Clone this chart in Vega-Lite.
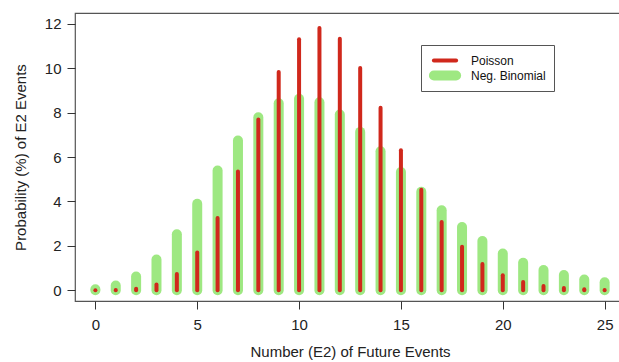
{
  "$schema": "https://vega.github.io/schema/vega-lite/v6.json",
  "width": 550,
  "height": 288,
  "autosize": "none",
  "padding": {"left": 75, "top": 13, "right": 0, "bottom": 61},
  "background": "white",
  "config": {
    "view": {"stroke": "#555", "strokeWidth": 1.2},
    "font": "Liberation Sans"
  },
  "data": {
    "values": [
      {"k": 0, "series": "Neg. Binomial", "p": 0.05},
      {"k": 1, "series": "Neg. Binomial", "p": 0.22},
      {"k": 2, "series": "Neg. Binomial", "p": 0.62},
      {"k": 3, "series": "Neg. Binomial", "p": 1.39},
      {"k": 4, "series": "Neg. Binomial", "p": 2.52},
      {"k": 5, "series": "Neg. Binomial", "p": 3.9},
      {"k": 6, "series": "Neg. Binomial", "p": 5.39},
      {"k": 7, "series": "Neg. Binomial", "p": 6.74},
      {"k": 8, "series": "Neg. Binomial", "p": 7.79},
      {"k": 9, "series": "Neg. Binomial", "p": 8.42},
      {"k": 10, "series": "Neg. Binomial", "p": 8.62},
      {"k": 11, "series": "Neg. Binomial", "p": 8.46},
      {"k": 12, "series": "Neg. Binomial", "p": 7.91},
      {"k": 13, "series": "Neg. Binomial", "p": 7.13},
      {"k": 14, "series": "Neg. Binomial", "p": 6.26},
      {"k": 15, "series": "Neg. Binomial", "p": 5.32},
      {"k": 16, "series": "Neg. Binomial", "p": 4.44},
      {"k": 17, "series": "Neg. Binomial", "p": 3.6},
      {"k": 18, "series": "Neg. Binomial", "p": 2.85},
      {"k": 19, "series": "Neg. Binomial", "p": 2.22},
      {"k": 20, "series": "Neg. Binomial", "p": 1.66},
      {"k": 21, "series": "Neg. Binomial", "p": 1.24},
      {"k": 22, "series": "Neg. Binomial", "p": 0.91},
      {"k": 23, "series": "Neg. Binomial", "p": 0.69},
      {"k": 24, "series": "Neg. Binomial", "p": 0.49},
      {"k": 25, "series": "Neg. Binomial", "p": 0.36},
      {"k": 0, "series": "Poisson", "p": 0.001},
      {"k": 1, "series": "Poisson", "p": 0.012},
      {"k": 2, "series": "Poisson", "p": 0.067},
      {"k": 3, "series": "Poisson", "p": 0.26},
      {"k": 4, "series": "Poisson", "p": 0.74},
      {"k": 5, "series": "Poisson", "p": 1.7},
      {"k": 6, "series": "Poisson", "p": 3.26},
      {"k": 7, "series": "Poisson", "p": 5.35},
      {"k": 8, "series": "Poisson", "p": 7.69},
      {"k": 9, "series": "Poisson", "p": 9.83},
      {"k": 10, "series": "Poisson", "p": 11.3},
      {"k": 11, "series": "Poisson", "p": 11.81},
      {"k": 12, "series": "Poisson", "p": 11.32},
      {"k": 13, "series": "Poisson", "p": 10.01},
      {"k": 14, "series": "Poisson", "p": 8.22},
      {"k": 15, "series": "Poisson", "p": 6.3},
      {"k": 16, "series": "Poisson", "p": 4.53},
      {"k": 17, "series": "Poisson", "p": 3.07},
      {"k": 18, "series": "Poisson", "p": 1.96},
      {"k": 19, "series": "Poisson", "p": 1.19},
      {"k": 20, "series": "Poisson", "p": 0.68},
      {"k": 21, "series": "Poisson", "p": 0.37},
      {"k": 22, "series": "Poisson", "p": 0.2},
      {"k": 23, "series": "Poisson", "p": 0.1},
      {"k": 24, "series": "Poisson", "p": 0.05},
      {"k": 25, "series": "Poisson", "p": 0.02}
    ]
  },
  "mark": {"type": "rule", "strokeCap": "round"},
  "encoding": {
    "x": {
      "field": "k",
      "type": "quantitative",
      "scale": {"domain": [-1, 26], "nice": false, "zero": false},
      "axis": {
        "values": [0, 5, 10, 15, 20, 25],
        "title": "Number (E2) of Future Events",
        "grid": false,
        "domain": false,
        "tickColor": "#333",
        "tickSize": 8,
        "tickWidth": 1,
        "labelFontSize": 15,
        "labelColor": "#222",
        "labelPadding": 8,
        "titleFontSize": 15,
        "titleFontWeight": "normal",
        "titleColor": "#222",
        "titlePadding": 12
      }
    },
    "y": {
      "field": "p",
      "type": "quantitative",
      "scale": {"domain": [-0.48, 12.48], "nice": false, "zero": false},
      "axis": {
        "values": [0, 2, 4, 6, 8, 10, 12],
        "title": "Probability (%) of E2 Events",
        "grid": false,
        "domain": false,
        "tickColor": "#333",
        "tickSize": 8,
        "tickWidth": 1,
        "labelFontSize": 15,
        "labelColor": "#222",
        "labelPadding": 6,
        "titleFontSize": 15,
        "titleFontWeight": "normal",
        "titleColor": "#222",
        "titlePadding": 16
      }
    },
    "y2": {"datum": 0},
    "color": {
      "field": "series",
      "type": "nominal",
      "scale": {"domain": ["Poisson", "Neg. Binomial"], "range": ["#d0281c", "#9ee882"]},
      "legend": {
        "title": null,
        "orient": "none",
        "legendX": 346,
        "legendY": 32,
        "strokeColor": "#555",
        "fillColor": "white",
        "padding": 8,
        "symbolType": "M-3.7,0H3.7",
        "symbolSize": 36,
        "symbolOffset": 8,
        "clipHeight": 15,
        "labelFontSize": 12,
        "labelColor": "#111",
        "labelOffset": 18,
        "rowPadding": 0,
        "encode": {"symbols": {"update": {"strokeCap": {"value": "round"}}}}
      }
    },
    "strokeWidth": {
      "field": "series",
      "type": "nominal",
      "scale": {"domain": ["Poisson", "Neg. Binomial"], "range": [4, 10]},
      "legend": {
        "title": null,
        "orient": "none",
        "legendX": 346,
        "legendY": 32,
        "strokeColor": "#555",
        "fillColor": "white",
        "padding": 8,
        "symbolType": "M-3.7,0H3.7",
        "symbolSize": 36,
        "symbolOffset": 8,
        "clipHeight": 15,
        "labelFontSize": 12,
        "labelColor": "#111",
        "labelOffset": 18,
        "rowPadding": 0,
        "encode": {"symbols": {"update": {"strokeCap": {"value": "round"}}}}
      }
    }
  }
}
